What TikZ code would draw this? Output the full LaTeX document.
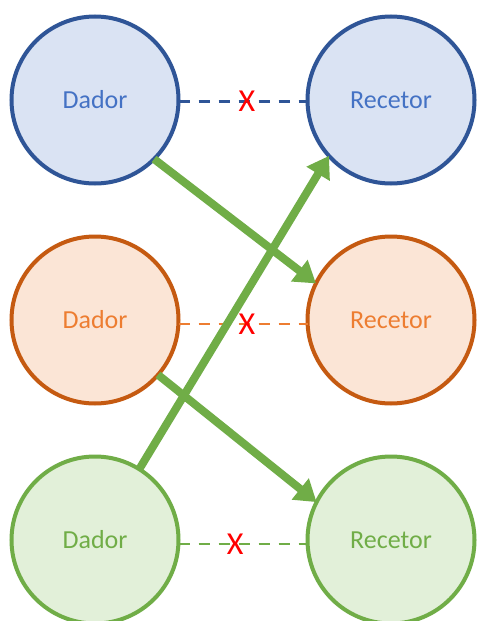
\documentclass[tikz,border=0pt]{standalone}
\usepackage{fontspec}
\setmainfont{Carlito}
\usetikzlibrary{arrows.meta}
\definecolor{bline}{HTML}{2F5597}
\definecolor{bfill}{HTML}{DAE3F3}
\definecolor{btext}{HTML}{4472C4}
\definecolor{oline}{HTML}{C55A11}
\definecolor{ofill}{HTML}{FBE5D6}
\definecolor{otext}{HTML}{ED7D31}
\definecolor{gline}{HTML}{70AD47}
\definecolor{gfill}{HTML}{E2F0D9}
\definecolor{gtext}{HTML}{70AD47}
\definecolor{xred}{HTML}{FF0000}
\tikzset{
  cell/.style={circle, minimum size=167pt, line width=4pt, inner sep=0pt, outer sep=0pt,
    font=\fontsize{26}{30}\selectfont},
  bluecell/.style={cell, draw=bline, fill=bfill, text=btext},
  orangecell/.style={cell, draw=oline, fill=ofill, text=otext},
  greencell/.style={cell, draw=gline, fill=gfill, text=gtext},
  link/.style={line width=2.8pt, dash pattern=on 11pt off 9pt},
  cross/.style={text=xred, inner sep=0pt, font=\fontsize{32}{34}\selectfont},
  transfer/.style={draw=gline, line width=8pt,
    -{Triangle[length=21pt,width=26pt]}}
}
\begin{document}
\begin{tikzpicture}[x=1pt,y=-1pt]
  \useasboundingbox (0,0) rectangle (480,621);
  \clip (0,0) rectangle (480,621);
  \fill[white] (0,0) rectangle (480,621);

  % donor / receptor pairs
  \node[bluecell]   (d1) at (95,100)  {Dador};
  \node[bluecell]   (r1) at (391,100) {Recetor};
  \node[orangecell] (d2) at (95,320)  {Dador};
  \node[orangecell] (r2) at (391,320) {Recetor};
  \node[greencell]  (d3) at (95,540)  {Dador};
  \node[greencell]  (r3) at (391,540) {Recetor};

  % blocked direct links
  \draw[link, draw=bline] ([yshift=-1.5pt]d1.east) -- ([yshift=-1.5pt]r1.west)
    node[pos=0.53, cross] (x1) {X};
  \draw[link, draw=otext, line width=2.5pt] ([yshift=-4pt]d2.east) -- ([yshift=-4pt]r2.west)
    node[pos=0.53, cross] (x2) {X};
  \draw[link, draw=gline] ([yshift=-4pt]d3.east) -- ([yshift=-4pt]r3.west)
    node[pos=0.44, cross] (x3) {X};

  % cross transfers
  \draw[transfer] (d1.-45) -- (r2.154);
  \draw[transfer] (d2.-41) -- (r3.153);
  \draw[transfer] (d3.58) -- (r1.222);
\end{tikzpicture}
\end{document}
